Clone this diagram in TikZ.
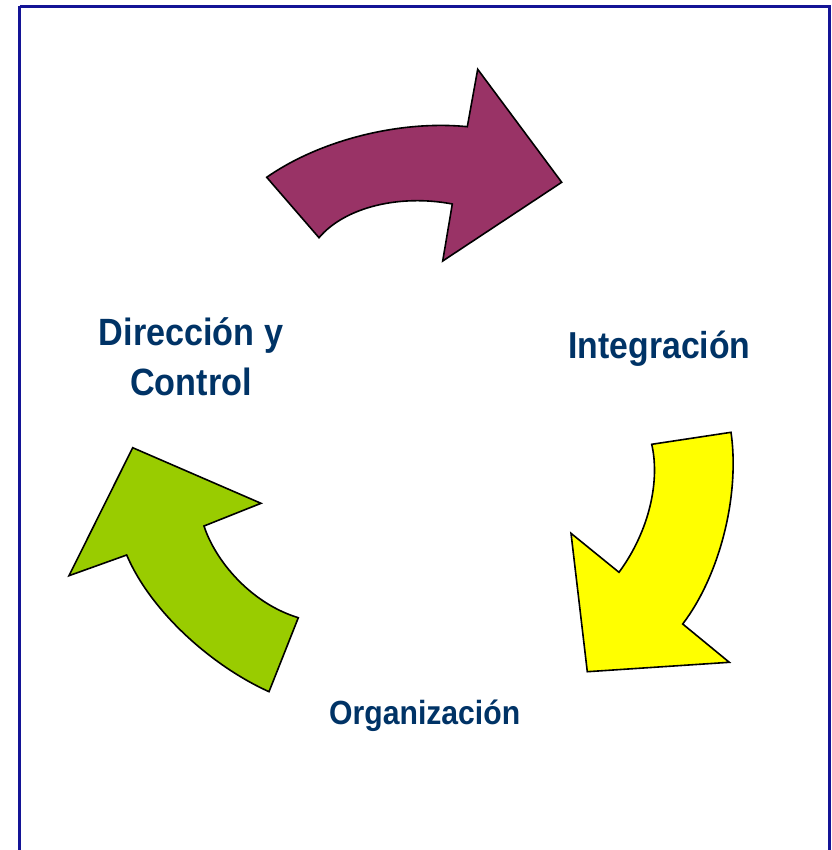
\documentclass[tikz,border=0pt]{standalone}
\usepackage{fontspec}
\newfontfamily\lblfont[FakeStretch=0.9]{Liberation Sans}
\definecolor{framecol}{RGB}{20,20,150}
\definecolor{plum}{RGB}{153,51,102}
\definecolor{lemon}{RGB}{255,255,0}
\definecolor{lime}{RGB}{153,204,0}
\definecolor{txtblue}{RGB}{0,51,102}
\tikzset{
  bentarrow/.style={draw=black, line width=1.6pt, line join=miter},
  lbl/.style={text=txtblue, inner sep=0pt, align=center}
}
\begin{document}
\begin{tikzpicture}[x=1pt,y=-1pt]
\useasboundingbox (0,0) rectangle (831,850);
\fill[white] (0,0) rectangle (831,850);
% frame
\draw[framecol, line width=3pt] (19.5,6.5) -- (829.5,6.5) -- (829.5,860);
\draw[framecol, line width=3pt] (19.5,6.5) -- (19.5,860);
% purple arrow
\draw[bentarrow, fill=plum] (266.7,177.3) -- (319,237.7)
  .. controls (345,207) and (400,194) .. (452.3,204)
  -- (442.7,261) -- (561.7,182.3) -- (477.7,69.3) -- (467.3,126.7)
  .. controls (400,120) and (320,140) .. (266.7,177.3) -- cycle;
% yellow arrow
\draw[bentarrow, fill=lemon] (731,432.3) -- (651.7,444.3)
  .. controls (660,480) and (650,530) .. (619,572.3)
  -- (571,533.3) -- (587.3,671.7) -- (729.3,662.3) -- (682.7,624)
  .. controls (720,575) and (740,495) .. (731,432.3) -- cycle;
% green arrow
\draw[bentarrow, fill=lime] (298.3,617.7) -- (269,691.7)
  .. controls (210,665) and (150,610) .. (126.7,555)
  -- (69,575.7) -- (132.7,447.7) -- (261,503.3) -- (204,526)
  .. controls (215,560) and (250,603) .. (298.3,617.7) -- cycle;
% labels
\node[lbl, anchor=base, font=\lblfont\bfseries\fontsize{38}{49.5}\selectfont] (dir) at (191,395.2) {Dirección y\\Control};
\node[lbl, anchor=base, font=\lblfont\bfseries\fontsize{37.5}{45}\selectfont] (integ) at (659.5,358.3) {Integración};
\node[lbl, anchor=base, font=\lblfont\bfseries\fontsize{33.5}{40}\selectfont] (org) at (424.7,724) {Organización};
\end{tikzpicture}
\end{document}
